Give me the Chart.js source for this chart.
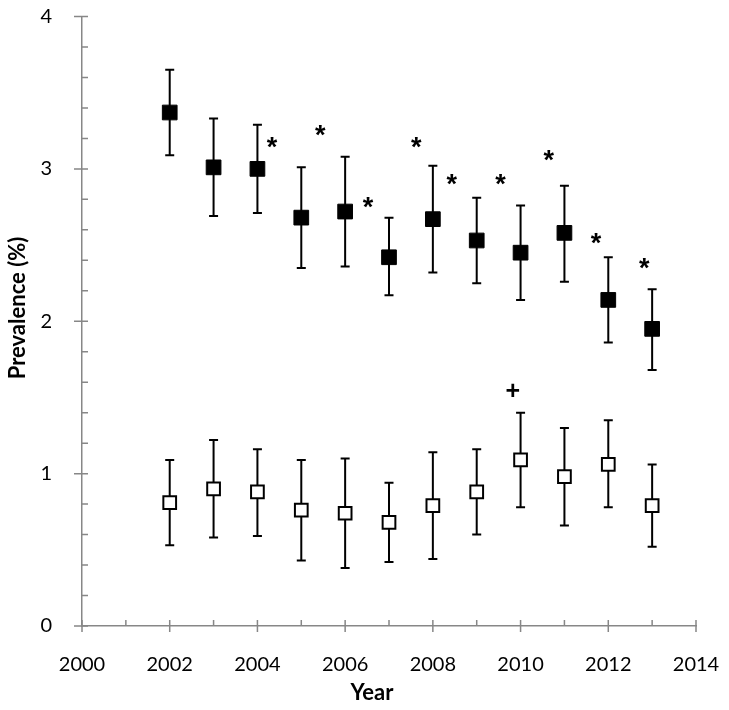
<!DOCTYPE html>
<html>
<head>
<meta charset="utf-8">
<script src="https://cdn.jsdelivr.net/npm/chart.js@4"></script>
<style>
  html, body { margin: 0; padding: 0; background: #fff; }
  #wrap { width: 729px; height: 710px; }
</style>
</head>
<body>
<div id="wrap"><canvas id="myChart" width="729" height="710"></canvas></div>
<script>
// years on the x axis
var years = [2002, 2003, 2004, 2005, 2006, 2007, 2008, 2009, 2010, 2011, 2012, 2013];

// filled squares
var filled     = [3.37, 3.01, 3.00, 2.68, 2.72, 2.42, 2.67, 2.53, 2.45, 2.58, 2.14, 1.95];
var filledLow  = [3.09, 2.69, 2.71, 2.35, 2.36, 2.17, 2.32, 2.25, 2.14, 2.26, 1.86, 1.68];
var filledHigh = [3.65, 3.33, 3.29, 3.01, 3.08, 2.68, 3.02, 2.81, 2.76, 2.89, 2.42, 2.21];

// open squares
var open     = [0.81, 0.90, 0.88, 0.76, 0.74, 0.68, 0.79, 0.88, 1.09, 0.98, 1.06, 0.79];
var openLow  = [0.53, 0.58, 0.59, 0.43, 0.38, 0.42, 0.44, 0.60, 0.78, 0.66, 0.78, 0.52];
var openHigh = [1.09, 1.22, 1.16, 1.09, 1.10, 0.94, 1.14, 1.16, 1.40, 1.30, 1.35, 1.06];

// significance marks
var markX    = [2004.33, 2005.43, 2006.52, 2007.62, 2008.43, 2009.54, 2010.64, 2011.72, 2012.82, 2009.82];
var markY    = [3.17, 3.25, 2.78, 3.17, 2.93, 2.93, 3.09, 2.54, 2.38, 1.55];
var markText = ['*', '*', '*', '*', '*', '*', '*', '*', '*', '+'];

var xMin = 2000, xMax = 2014;
var yMin = 0, yMax = 4;

var axisGray = '#878787';

function toPoints(xs, ys) {
  var out = [];
  for (var i = 0; i < xs.length; i++) out.push({x: xs[i], y: ys[i]});
  return out;
}

var errorBars = {
  id: 'errorBars',
  beforeDatasetsDraw: function(chart) {
    var ctx = chart.ctx, xs = chart.scales.x, ys = chart.scales.y;
    var sets = [[filledLow, filledHigh], [openLow, openHigh]];
    ctx.save();
    ctx.strokeStyle = '#000';
    ctx.lineWidth = 2;
    sets.forEach(function(s) {
      for (var i = 0; i < years.length; i++) {
        var px = xs.getPixelForValue(years[i]);
        var lo = ys.getPixelForValue(s[0][i]);
        var hi = ys.getPixelForValue(s[1][i]);
        ctx.beginPath();
        ctx.moveTo(px, lo); ctx.lineTo(px, hi);
        ctx.moveTo(px - 4.5, lo); ctx.lineTo(px + 4.5, lo);
        ctx.moveTo(px - 4.5, hi); ctx.lineTo(px + 4.5, hi);
        ctx.stroke();
      }
    });
    ctx.restore();
  }
};

var tickMarks = {
  id: 'tickMarks',
  afterDraw: function(chart) {
    var ctx = chart.ctx, xs = chart.scales.x, ys = chart.scales.y;
    var area = chart.chartArea;
    ctx.save();
    ctx.strokeStyle = axisGray;
    ctx.lineWidth = 1.5;
    ctx.beginPath();
    xs.ticks.forEach(function(t) {
      var px = xs.getPixelForValue(t.value);
      var major = Math.round(t.value) % 2 === 0;
      ctx.moveTo(px, area.bottom - 6);
      ctx.lineTo(px, area.bottom + (major ? 6 : 0));
    });
    ys.ticks.forEach(function(t) {
      var py = ys.getPixelForValue(t.value);
      var major = Math.abs(t.value - Math.round(t.value)) < 1e-6;
      ctx.moveTo(area.left + 6, py);
      ctx.lineTo(area.left - (major ? 8 : 0), py);
    });
    ctx.stroke();
    ctx.restore();
  }
};

var marksAndTitles = {
  id: 'marksAndTitles',
  afterDraw: function(chart) {
    var ctx = chart.ctx, xs = chart.scales.x, ys = chart.scales.y;
    ctx.save();
    ctx.fillStyle = '#000';
    ctx.textAlign = 'center';
    for (var i = 0; i < markX.length; i++) {
      var px = xs.getPixelForValue(markX[i]);
      var py = ys.getPixelForValue(markY[i]);
      ctx.font = markText[i] === '*' ? 'bold 27px "Liberation Sans"' : 'bold 25px "Liberation Sans"';
      var m = ctx.measureText(markText[i]);
      var mid = (m.actualBoundingBoxAscent - m.actualBoundingBoxDescent) / 2;
      ctx.textBaseline = 'alphabetic';
      ctx.fillText(markText[i], px, py + mid);
    }
    // axis titles
    ctx.font = 'bold 22px Lato';
    ctx.textBaseline = 'middle';
    ctx.fillText('Year', 372, 693);
    ctx.translate(18, 308);
    ctx.rotate(-Math.PI / 2);
    ctx.fillText('Prevalence (%)', 0, 0);
    ctx.restore();
  }
};

var ctx = document.getElementById('myChart').getContext('2d');
var myChart = new Chart(ctx, {
  type: 'scatter',
  data: {
    datasets: [{
      label: 'filled',
      data: toPoints(years, filled),
      pointStyle: 'rect',
      pointRadius: 10.4,
      backgroundColor: '#000',
      borderColor: '#000',
      borderWidth: 1,
      showLine: false
    }, {
      label: 'open',
      data: toPoints(years, open),
      pointStyle: 'rect',
      pointRadius: 9,
      backgroundColor: '#fff',
      borderColor: '#000',
      borderWidth: 2,
      showLine: false
    }]
  },
  options: {
    responsive: false,
    animation: false,
    layout: { padding: { top: 16.5, right: 33, left: 0, bottom: 0 } },
    plugins: {
      legend: { display: false },
      tooltip: { enabled: false }
    },
    scales: {
      x: {
        type: 'linear',
        min: xMin, max: xMax,
        grid: { display: false },
        border: { display: true, color: axisGray, width: 1.5 },
        ticks: {
          stepSize: 1,
          autoSkip: false,
          maxRotation: 0,
          padding: 19,
          color: '#000',
          font: { family: 'Lato', size: 20 },
          callback: function(v) { return Math.round(v) % 2 === 0 ? String(v) : ''; }
        },
        afterFit: function(scale) {
          scale.height = 84;
          scale.paddingLeft = 0;
          scale.paddingRight = 0;
        }
      },
      y: {
        min: yMin, max: yMax,
        grid: { display: false },
        border: { display: true, color: axisGray, width: 1.5 },
        ticks: {
          stepSize: 0.2,
          autoSkip: false,
          padding: 22,
          color: '#000',
          font: { family: 'Lato', size: 20 },
          callback: function(v) { return Math.abs(v - Math.round(v)) < 1e-6 ? String(Math.round(v)) : ''; }
        },
        afterFit: function(scale) {
          scale.width = 82;
          scale.paddingTop = 0;
          scale.paddingBottom = 0;
        }
      }
    }
  },
  plugins: [errorBars, tickMarks, marksAndTitles]
});
</script>
</body>
</html>
